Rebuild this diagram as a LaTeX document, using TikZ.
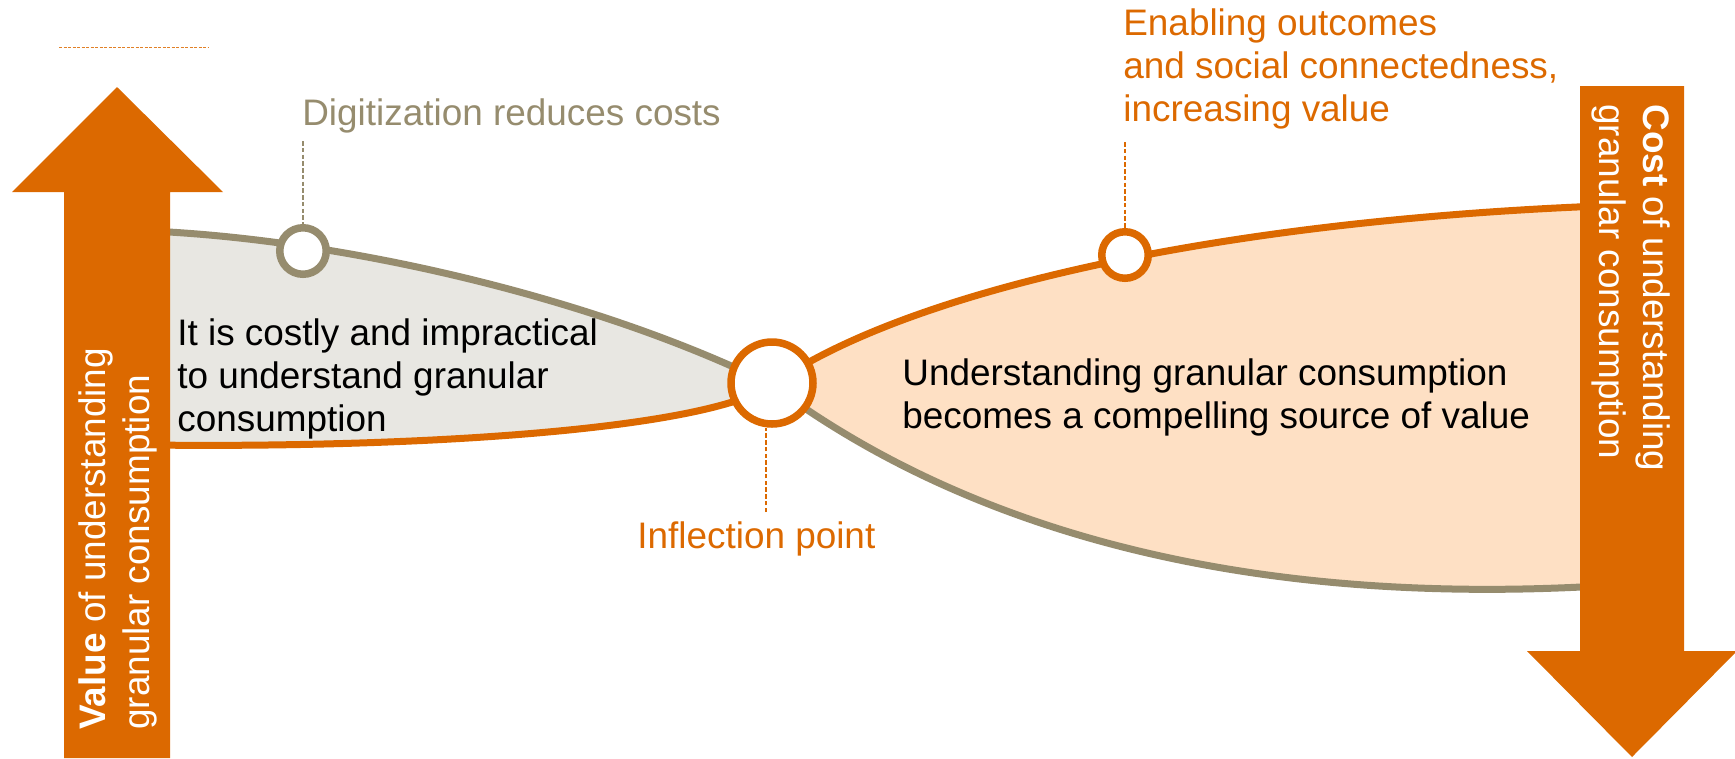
\documentclass[tikz,border=0pt]{standalone}
\usepackage{fontspec}
\setmainfont{Liberation Sans}

\definecolor{pwcorange}{RGB}{220,105,0}
\definecolor{pwctan}{RGB}{150,140,110}
\definecolor{lobegrey}{RGB}{232,231,226}
\definecolor{lobepeach}{RGB}{254,224,196}

\tikzset{
  curve/.style={line width=1.4mm},
  ring/.style={circle,draw,line width=1.5mm,fill=white,inner sep=0pt},
  leader/.style={line width=0.35mm,dash pattern=on 0.9mm off 0.45mm},
  arrowtext/.style={white,inner sep=0pt,anchor=base west},
  plain/.style={inner sep=0pt,align=left}
}

\begin{document}
\begin{tikzpicture}[x=0.2mm,y=-0.2mm,font=\fontsize{21}{24.5}\selectfont]
        \useasboundingbox (0,0) rectangle (1735,758);

        % the two lobes
        \fill[lobegrey](150,231)..controls(350,240)and(600,300)..(772,385)
            ..controls(700,432)and(400,448)..(150,445)--cycle;
        \fill[lobepeach](772,385)..controls(900,295)and(1200,222)..(1600,206)
            --(1600,586)..controls(1150,612)and(900,480)..(772,385)--cycle;
        \draw[curve,pwctan](150,231)..controls(350,240)and(600,300)..(772,385)
            ..controls(900,480)and(1150,612)..(1600,586);
        \draw[curve,pwcorange](150,445)..controls(400,448)and(700,432)..(772,385)
            ..controls(900,295)and(1200,222)..(1600,206);

        % rings on the curves
        \node[ring,draw=pwctan,minimum size=9.3mm](digring)at(303,251){};
        \node[ring,draw=pwcorange,minimum size=16.4mm](inflring)at(772,383){};
        \node[ring,draw=pwcorange,minimum size=9.3mm](enabring)at(1125,255){};

        % labels
        \node[plain,pwctan,anchor=base west](diglabel)at(302,125){Digitization reduces costs};
        \node[plain,pwcorange,anchor=north west](enablabel)at(1123,8){Enabling outcomes\\and social connectedness,\\increasing value};
        \node[plain,pwcorange,anchor=base west](infllabel)at(637,548){Inflection point};
        \node[plain,anchor=north west](costly)at(177,318){It is costly and impractical\\to understand granular\\consumption};
        \node[plain,anchor=north west](compelling)at(902,358){Understanding granular consumption\\becomes a compelling source of value};

        \coordinate(digtop)at(303,141);
        \coordinate(inflbot)at(766,512);
        \coordinate(enabtop)at(1125,142);
        \draw[leader,pwctan](digtop)--(digring);
        \draw[leader,pwcorange](inflbot)--(inflbot|-inflring.south);
        \draw[leader,pwcorange](enabtop)--(enabring);

        \draw[pwcorange!85,line width=0.2mm,dash pattern=on 0.6mm off 0.3mm](59,47)--(208,47);

        % value and cost arrows
        \fill[pwcorange](64,758)--(64,192)--(12,192)--(117,87)--(223,192)--(170,192)--(170,758)--cycle;
        \fill[pwcorange](1580,86)--(1580,651)--(1527,651)--(1632,757)--(1737,651)--(1684,651)--(1684,86)--cycle;
        \node[arrowtext,rotate=90](valuetop)at(105,730){\textbf{Value} of understanding};
        \node[arrowtext,rotate=90](valuebot)at(149,730){granular consumption};
        \node[arrowtext,rotate=-90](costtop)at(1643,104){\textbf{Cost} of understanding};
        \node[arrowtext,rotate=-90](costbot)at(1599,104){granular consumption};
    \end{tikzpicture}
\end{document}
